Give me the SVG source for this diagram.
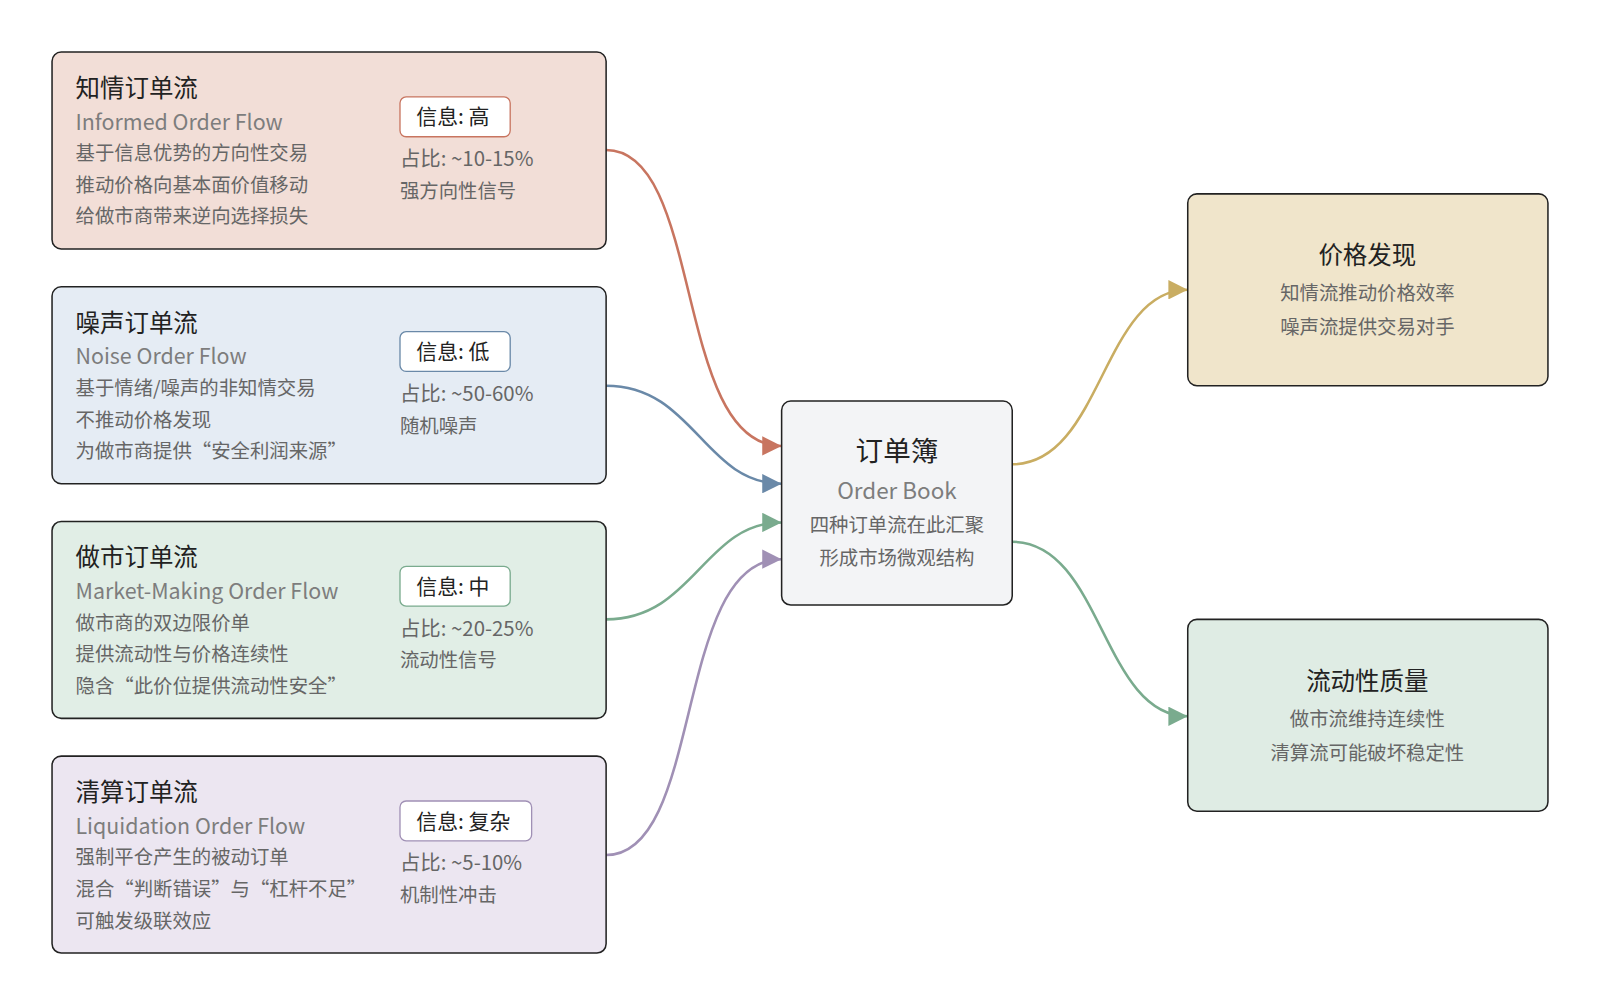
<svg xmlns="http://www.w3.org/2000/svg" width="1600" height="1006" viewBox="0 0 1600 1006">
<style>
text{font-family:"Noto Sans CJK SC","Noto Sans",sans-serif}
.box{stroke:#222;stroke-width:1.5}
.t{font-size:24px;fill:#222}
.e{font-size:21px;fill:#7d7d7d}
.d{font-size:19px;fill:#666}
.p{font-size:20px;fill:#666}
.badge{fill:#fff;stroke-width:1.3}
.bt{font-size:20.5px;fill:#222}
.ct{text-anchor:middle}
.c{fill:none;stroke-width:2.5}
</style>
<defs>
<marker id="mr" viewBox="0 0 10 10" refX="10" refY="5" markerWidth="19" markerHeight="19" orient="auto" markerUnits="userSpaceOnUse"><path d="M0,0L10,5L0,10z" fill="#c87560"/></marker>
<marker id="mb" viewBox="0 0 10 10" refX="10" refY="5" markerWidth="19" markerHeight="19" orient="auto" markerUnits="userSpaceOnUse"><path d="M0,0L10,5L0,10z" fill="#6a89a8"/></marker>
<marker id="mg" viewBox="0 0 10 10" refX="10" refY="5" markerWidth="19" markerHeight="19" orient="auto" markerUnits="userSpaceOnUse"><path d="M0,0L10,5L0,10z" fill="#7aab8e"/></marker>
<marker id="mp" viewBox="0 0 10 10" refX="10" refY="5" markerWidth="19" markerHeight="19" orient="auto" markerUnits="userSpaceOnUse"><path d="M0,0L10,5L0,10z" fill="#a090b5"/></marker>
<marker id="my" viewBox="0 0 10 10" refX="10" refY="5" markerWidth="19" markerHeight="19" orient="auto" markerUnits="userSpaceOnUse"><path d="M0,0L10,5L0,10z" fill="#c9ad62"/></marker>
</defs>
<rect width="1600" height="1006" fill="#fff"/>
<g transform="scale(1.0204)">
<g id="connectors">
<path class="c" stroke="#c87560" marker-end="url(#mr)" d="M594,147 C690,147 660,437 766,437"/>
<path class="c" stroke="#6a89a8" marker-end="url(#mb)" d="M594,378 C680,378 690,474 766,474"/>
<path class="c" stroke="#7aab8e" marker-end="url(#mg)" d="M594,607 C680,607 690,512 766,512"/>
<path class="c" stroke="#a090b5" marker-end="url(#mp)" d="M594,838 C690,838 660,548 766,548"/>
<path class="c" stroke="#c9ad62" marker-end="url(#my)" d="M992,455 C1080,455 1080,284 1164,284"/>
<path class="c" stroke="#7aab8e" marker-end="url(#mg)" d="M992,531 C1080,531 1080,702 1164,702"/>
</g>
<g id="informed">
<rect class="box" x="51" y="51" width="543" height="193" rx="9" fill="#f2ded7"/>
<text class="t" x="74" y="95">知情订单流</text>
<text class="e" x="74" y="127">Informed Order Flow</text>
<text class="d" x="74" y="157">基于信息优势的方向性交易</text>
<text class="d" x="74" y="188">推动价格向基本面价值移动</text>
<text class="d" x="74" y="219">给做市商带来逆向选择损失</text>
<rect class="badge" stroke="#c87560" x="392" y="95" width="108" height="39" rx="6"/>
<text class="bt" x="408" y="122">信息: 高</text>
<text class="p" x="392" y="163">占比: ~10-15%</text>
<text class="d" x="392" y="194">强方向性信号</text>
</g>
<g id="noise">
<rect class="box" x="51" y="281" width="543" height="193" rx="9" fill="#e5ecf4"/>
<text class="t" x="74" y="325">噪声订单流</text>
<text class="e" x="74" y="357">Noise Order Flow</text>
<text class="d" x="74" y="387">基于情绪/噪声的非知情交易</text>
<text class="d" x="74" y="418">不推动价格发现</text>
<text class="d" x="74" y="449">为做市商提供“安全利润来源”</text>
<rect class="badge" stroke="#6a89a8" x="392" y="325" width="108" height="39" rx="6"/>
<text class="bt" x="408" y="352">信息: 低</text>
<text class="p" x="392" y="393">占比: ~50-60%</text>
<text class="d" x="392" y="424">随机噪声</text>
</g>
<g id="mm">
<rect class="box" x="51" y="511" width="543" height="193" rx="9" fill="#e1eee6"/>
<text class="t" x="74" y="555">做市订单流</text>
<text class="e" x="74" y="587">Market-Making Order Flow</text>
<text class="d" x="74" y="617">做市商的双边限价单</text>
<text class="d" x="74" y="648">提供流动性与价格连续性</text>
<text class="d" x="74" y="679">隐含“此价位提供流动性安全”</text>
<rect class="badge" stroke="#7aab8e" x="392" y="555" width="108" height="39" rx="6"/>
<text class="bt" x="408" y="582">信息: 中</text>
<text class="p" x="392" y="623">占比: ~20-25%</text>
<text class="d" x="392" y="654">流动性信号</text>
</g>
<g id="liq">
<rect class="box" x="51" y="741" width="543" height="193" rx="9" fill="#ece6f1"/>
<text class="t" x="74" y="785">清算订单流</text>
<text class="e" x="74" y="817">Liquidation Order Flow</text>
<text class="d" x="74" y="847">强制平仓产生的被动订单</text>
<text class="d" x="74" y="878">混合“判断错误”与“杠杆不足”</text>
<text class="d" x="74" y="909">可触发级联效应</text>
<rect class="badge" stroke="#a090b5" x="392" y="785" width="129" height="39" rx="6"/>
<text class="bt" x="408" y="812">信息: 复杂</text>
<text class="p" x="392" y="853">占比: ~5-10%</text>
<text class="d" x="392" y="884">机制性冲击</text>
</g>
<g id="book">
<rect class="box" x="766" y="393" width="226" height="200" rx="9" fill="#f3f4f6"/>
<text class="t ct" x="879" y="452" style="font-size:27px">订单簿</text>
<text class="e ct" x="879" y="489" style="font-size:22px">Order Book</text>
<text class="d ct" x="879" y="521">四种订单流在此汇聚</text>
<text class="d ct" x="879" y="554">形成市场微观结构</text>
</g>
<g id="price">
<rect class="box" x="1164" y="190" width="353" height="188" rx="9" fill="#f0e5cb"/>
<text class="t ct" x="1340" y="259">价格发现</text>
<text class="d ct" x="1340" y="294">知情流推动价格效率</text>
<text class="d ct" x="1340" y="327">噪声流提供交易对手</text>
</g>
<g id="liquidity">
<rect class="box" x="1164" y="607" width="353" height="188" rx="9" fill="#dfece4"/>
<text class="t ct" x="1340" y="676">流动性质量</text>
<text class="d ct" x="1340" y="711">做市流维持连续性</text>
<text class="d ct" x="1340" y="745">清算流可能破坏稳定性</text>
</g>
</g>
</svg>
